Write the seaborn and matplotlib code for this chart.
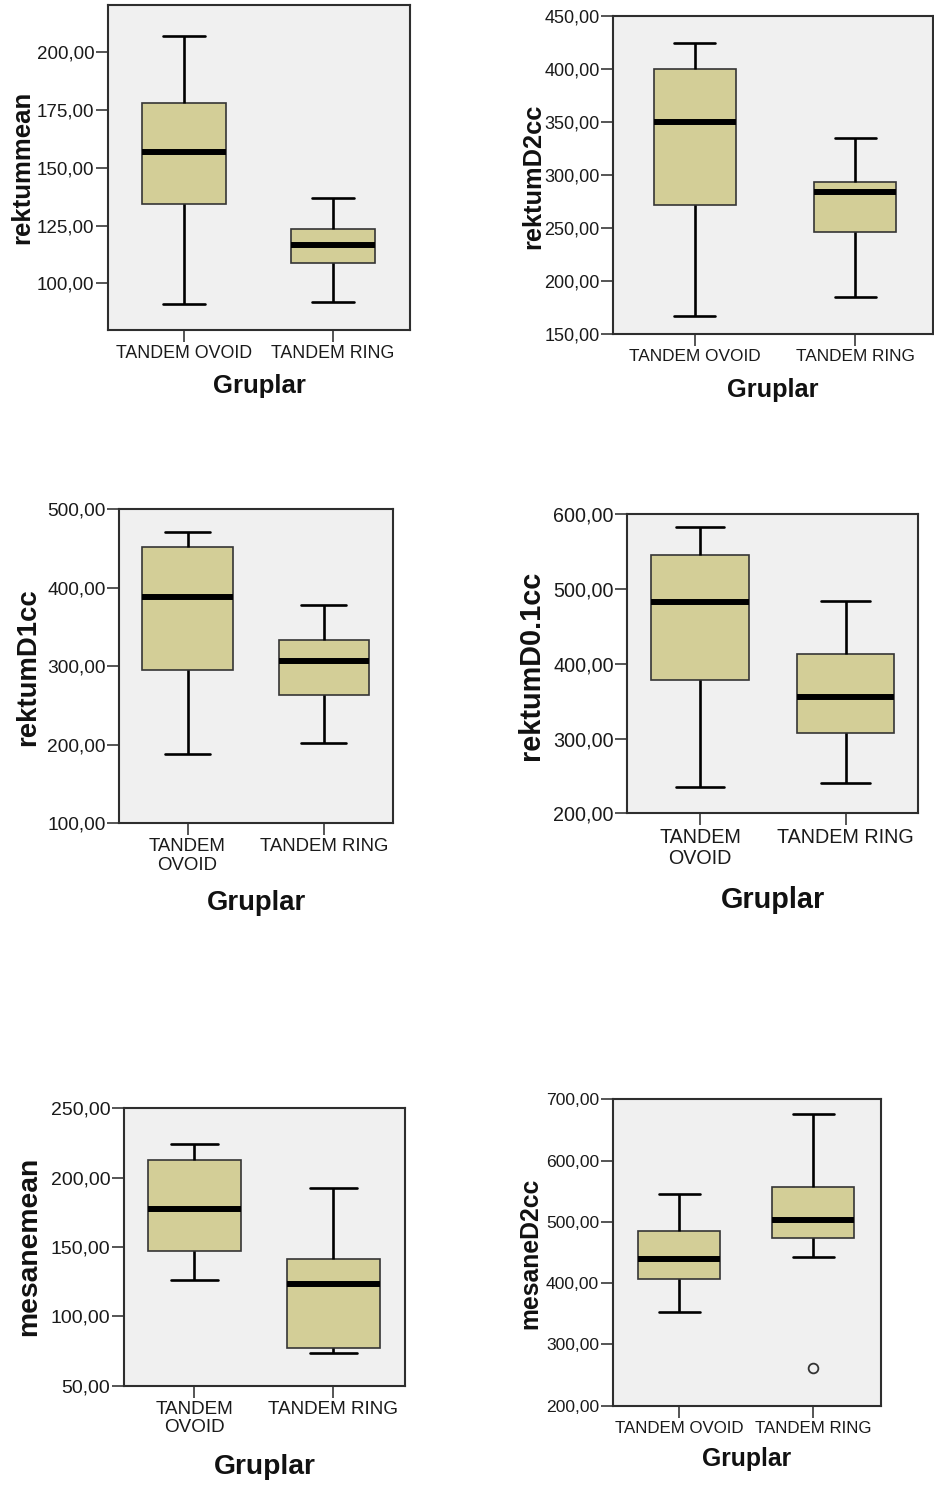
import numpy as np
import pandas as pd
import matplotlib
matplotlib.use("Agg")
import matplotlib.pyplot as plt
import seaborn as sns
from matplotlib.ticker import FixedLocator, FuncFormatter

# ---- data -------------------------------------------------------------
groups = ["TANDEM OVOID", "TANDEM RING"]

# five-number summaries: lower whisker, Q1, median, Q3, upper whisker
rektummean_ovoid = [90.9, 134.3, 157.0, 177.9, 207.2]
rektummean_ring = [91.9, 108.7, 116.7, 123.7, 137.1]

rektumD2cc_ovoid = [167.3, 271.5, 350.0, 400.0, 424.6]
rektumD2cc_ring = [184.9, 246.4, 283.7, 293.7, 334.6]

rektumD1cc_ovoid = [188.3, 294.8, 388.4, 452.0, 470.4]
rektumD1cc_ring = [202.7, 263.0, 306.6, 333.3, 377.5]

rektumD01cc_ovoid = [235.6, 378.3, 483.1, 545.6, 583.4]
rektumD01cc_ring = [241.0, 307.8, 356.0, 412.7, 484.0]

mesanemean_ovoid = [126.2, 147.1, 177.2, 212.7, 224.3]
mesanemean_ring = [73.3, 77.4, 123.1, 141.3, 192.5]

mesaneD2cc_ovoid = [353.4, 406.3, 439.4, 485.1, 545.0]
mesaneD2cc_ring = [443.1, 473.2, 503.5, 556.9, 676.5]
mesaneD2cc_ring_outliers = [261.0]

variables = ["rektummean", "rektumD2cc", "rektumD1cc",
             "rektumD0.1cc", "mesanemean", "mesaneD2cc"]
summaries = [
    (rektummean_ovoid, rektummean_ring, []),
    (rektumD2cc_ovoid, rektumD2cc_ring, []),
    (rektumD1cc_ovoid, rektumD1cc_ring, []),
    (rektumD01cc_ovoid, rektumD01cc_ring, []),
    (mesanemean_ovoid, mesanemean_ring, []),
    (mesaneD2cc_ovoid, mesaneD2cc_ring, mesaneD2cc_ring_outliers),
]
y_ticks = [
    [100, 125, 150, 175, 200],
    [150, 200, 250, 300, 350, 400, 450],
    [100, 200, 300, 400, 500],
    [200, 300, 400, 500, 600],
    [50, 100, 150, 200, 250],
    [200, 300, 400, 500, 600, 700],
]


def observations(summary, outliers=()):
    """Points whose quartiles and whiskers reproduce a five-number summary."""
    lo, q1, med, q3, hi = summary
    if len(outliers) == 0:
        return [lo, q1, med, q3, hi]
    # nine sorted points keep the quartiles at ranks 2, 4 and 6
    return sorted(list(outliers) + [lo, q1, q1, med, q3, q3, hi, hi])


# ---- layout (pixel boxes: left, top, right, bottom) ----------------------
W, H = 934, 1487
panels = [
    dict(box=(108, 5, 410, 330), ylim=(79.8, 220.5), xlim=(-0.51, 1.517),
         width=0.57, wrap=False, ytick=13.5, xtick=12.8, lab=18.5,
         ylab_xy=(22, 167.5), xlab_y=386),
    dict(box=(613.3, 15.7, 932.5, 334.3), ylim=(150, 450), xlim=(-0.508, 1.48),
         width=0.51, wrap=False, ytick=13.0, xtick=12.4, lab=18.3,
         ylab_xy=(533, 176.7), xlab_y=390),
    dict(box=(119.3, 509, 393.3, 823.3), ylim=(100, 500), xlim=(-0.50, 1.508),
         width=0.66, wrap=True, ytick=13.8, xtick=13.4, lab=19.8,
         ylab_xy=(28, 666.7), xlab_y=903),
    dict(box=(627.3, 514.3, 918.3, 813.3), ylim=(200, 600), xlim=(-0.5, 1.5),
         width=0.67, wrap=True, ytick=14.2, xtick=14.2, lab=20.8,
         ylab_xy=(531, 665.8), xlab_y=900),
    dict(box=(124, 1108.3, 405, 1385.7), ylim=(50, 250), xlim=(-0.506, 1.516),
         width=0.67, wrap=True, ytick=14.0, xtick=13.6, lab=20.3,
         ylab_xy=(29.5, 1246.7), xlab_y=1467.5),
    dict(box=(612.7, 1099.3, 880.7, 1405.7), ylim=(200, 700), xlim=(-0.497, 1.503),
         width=0.61, wrap=False, ytick=12.6, xtick=12.2, lab=17.8,
         ylab_xy=(530, 1253.3), xlab_y=1459),
]

# ---- style --------------------------------------------------------------
sns.set_theme(style="ticks")
plt.rcParams["font.family"] = ["Liberation Sans", "DejaVu Sans"]

BOX_FILL = "#D3CE97"
PANEL_BG = "#F0F0F0"
TEXT = "#1a1a1a"

fig = plt.figure(figsize=(W / 100, H / 100), dpi=100)
fig.patch.set_facecolor("white")

comma_fmt = FuncFormatter(lambda v, pos: f"{v:.2f}".replace(".", ","))

for var, (ovoid, ring, outl), ticks, p in zip(variables, summaries, y_ticks, panels):
    l, t, r, b = p["box"]
    ax = fig.add_axes([l / W, 1 - b / H, (r - l) / W, (b - t) / H])
    ax.set_facecolor(PANEL_BG)

    vals_o = observations(ovoid)
    vals_r = observations(ring, outl)
    df = pd.DataFrame({
        "Gruplar": [groups[0]] * len(vals_o) + [groups[1]] * len(vals_r),
        var: vals_o + vals_r,
    })

    sns.boxplot(
        data=df, x="Gruplar", y=var, order=groups, ax=ax,
        width=p["width"], color=BOX_FILL, saturation=1, whis=1.5,
        linecolor="black",
        boxprops=dict(edgecolor="#353535", linewidth=1.2),
        medianprops=dict(color="black", linewidth=4.3, solid_capstyle="butt"),
        whiskerprops=dict(color="black", linewidth=1.9),
        capprops=dict(color="black", linewidth=1.9),
        flierprops=dict(marker="o", markerfacecolor="none",
                        markeredgecolor="#333333", markersize=7,
                        markeredgewidth=1.3),
    )

    ax.set_xlim(*p["xlim"])
    ax.set_ylim(*p["ylim"])
    ax.yaxis.set_major_locator(FixedLocator(ticks))
    ax.yaxis.set_major_formatter(comma_fmt)
    ax.set_xticks([0, 1])
    labels = ["TANDEM\nOVOID", "TANDEM RING"] if p["wrap"] else groups
    ax.set_xticklabels(labels, linespacing=1.12)

    for side in ["left", "right", "top", "bottom"]:
        ax.spines[side].set_visible(True)
        ax.spines[side].set_color("#2e2e2e")
        ax.spines[side].set_linewidth(1.5)

    ax.tick_params(axis="y", length=9, width=1.4, color="#555555", pad=0.8,
                   labelsize=p["ytick"], labelcolor=TEXT)
    ax.tick_params(axis="x", length=8.5, width=1.4, color="#555555", pad=2.2,
                   labelsize=p["xtick"], labelcolor=TEXT)

    ax.set_ylabel(var, fontsize=p["lab"], fontweight="bold", color="#111111")
    ax.set_xlabel("Gruplar", fontsize=p["lab"], fontweight="bold", color="#111111")
    ax.yaxis.label.set_verticalalignment("center")
    ax.xaxis.label.set_verticalalignment("center")
    yx, yy = p["ylab_xy"]
    ax.yaxis.set_label_coords(yx / W, 1 - yy / H, transform=fig.transFigure)
    ax.xaxis.set_label_coords(((l + r) / 2) / W, 1 - p["xlab_y"] / H,
                              transform=fig.transFigure)

fig.savefig("out.png", dpi=100, facecolor="white")
